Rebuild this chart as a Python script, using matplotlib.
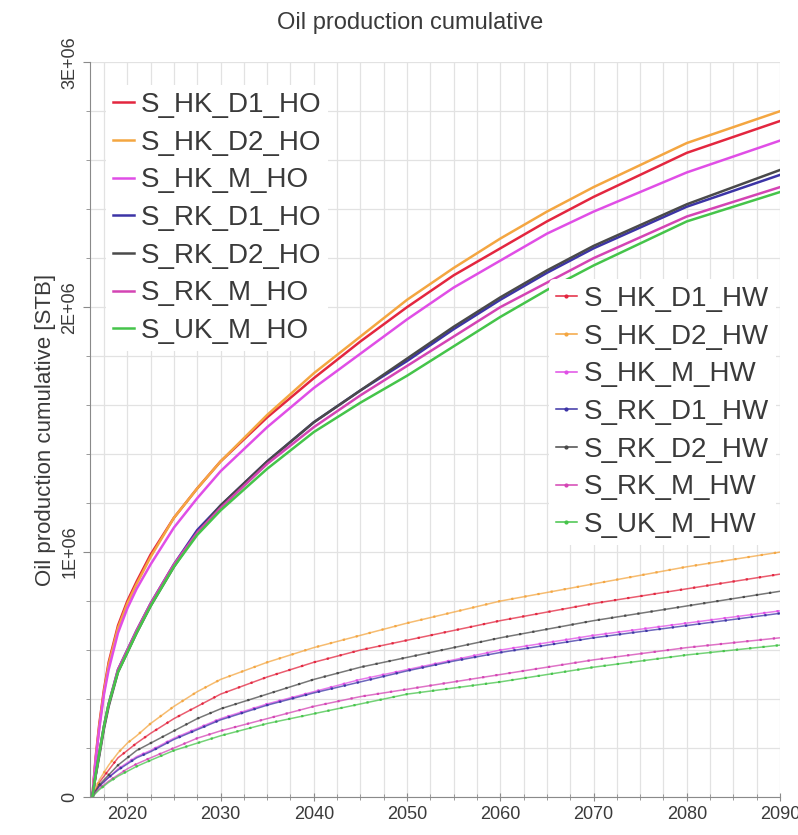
import matplotlib
matplotlib.use("Agg")
import matplotlib.pyplot as plt
from matplotlib.lines import Line2D
from matplotlib.ticker import MultipleLocator, FuncFormatter

plt.rcParams['font.family'] = ['Liberation Sans', 'DejaVu Sans']

# Years of the simulation output
years = [2016.25, 2016.6, 2017, 2017.5, 2018, 2019, 2020, 2021, 2022.5, 2025, 2027.5,
         2030, 2035, 2040, 2045, 2050, 2055, 2060, 2065, 2070, 2080, 2090]

# Cumulative oil [million STB] - HO cases
s_hk_d1_ho = [0, 0.16, 0.30, 0.44, 0.55, 0.70, 0.80, 0.88, 0.99, 1.14, 1.26,
              1.37, 1.55, 1.71, 1.86, 2.00, 2.13, 2.24, 2.35, 2.45, 2.63, 2.76]
s_hk_d2_ho = [0, 0.15, 0.29, 0.43, 0.54, 0.69, 0.79, 0.87, 0.98, 1.14, 1.26,
              1.37, 1.56, 1.73, 1.88, 2.03, 2.16, 2.28, 2.39, 2.49, 2.67, 2.80]
s_hk_m_ho = [0, 0.15, 0.28, 0.42, 0.52, 0.67, 0.77, 0.85, 0.95, 1.10, 1.22,
             1.33, 1.51, 1.67, 1.81, 1.95, 2.08, 2.19, 2.30, 2.39, 2.55, 2.68]
s_rk_d1_ho = [0, 0.09, 0.18, 0.29, 0.38, 0.52, 0.60, 0.68, 0.79, 0.95, 1.09,
              1.19, 1.37, 1.53, 1.66, 1.78, 1.91, 2.03, 2.14, 2.24, 2.41, 2.54]
s_rk_d2_ho = [0, 0.085, 0.17, 0.28, 0.37, 0.51, 0.59, 0.67, 0.78, 0.94, 1.08,
              1.19, 1.37, 1.53, 1.66, 1.79, 1.92, 2.04, 2.15, 2.25, 2.42, 2.56]
s_rk_m_ho = [0, 0.09, 0.18, 0.29, 0.38, 0.52, 0.60, 0.68, 0.79, 0.95, 1.08,
             1.18, 1.36, 1.51, 1.64, 1.76, 1.88, 2.00, 2.10, 2.20, 2.37, 2.49]
s_uk_m_ho = [0, 0.09, 0.18, 0.29, 0.38, 0.51, 0.59, 0.67, 0.78, 0.94, 1.07,
             1.17, 1.34, 1.49, 1.61, 1.72, 1.84, 1.96, 2.07, 2.17, 2.35, 2.47]

# Cumulative oil [million STB] - HW cases
s_hk_d1_hw = [0, 0.03, 0.06, 0.085, 0.11, 0.16, 0.19, 0.22, 0.26, 0.32, 0.37,
              0.42, 0.49, 0.55, 0.60, 0.64, 0.68, 0.72, 0.755, 0.79, 0.85, 0.91]
s_hk_d2_hw = [0, 0.035, 0.07, 0.10, 0.13, 0.18, 0.22, 0.25, 0.30, 0.37, 0.43,
              0.48, 0.55, 0.61, 0.66, 0.71, 0.755, 0.80, 0.835, 0.87, 0.94, 1.00]
s_hk_m_hw = [0, 0.022, 0.045, 0.063, 0.08, 0.115, 0.14, 0.165, 0.19, 0.24, 0.28,
             0.32, 0.38, 0.43, 0.48, 0.52, 0.56, 0.60, 0.63, 0.66, 0.71, 0.76]
s_rk_d1_hw = [0, 0.022, 0.045, 0.062, 0.08, 0.11, 0.135, 0.16, 0.185, 0.235, 0.275,
              0.315, 0.375, 0.425, 0.47, 0.515, 0.555, 0.59, 0.62, 0.65, 0.70, 0.75]
s_rk_d2_hw = [0, 0.025, 0.05, 0.07, 0.09, 0.13, 0.16, 0.19, 0.22, 0.27, 0.32,
              0.36, 0.42, 0.48, 0.53, 0.57, 0.61, 0.65, 0.685, 0.72, 0.78, 0.84]
s_rk_m_hw = [0, 0.018, 0.035, 0.05, 0.065, 0.09, 0.115, 0.135, 0.16, 0.20, 0.24,
             0.27, 0.32, 0.37, 0.41, 0.44, 0.47, 0.50, 0.53, 0.56, 0.61, 0.65]
s_uk_m_hw = [0, 0.015, 0.03, 0.045, 0.06, 0.085, 0.105, 0.125, 0.15, 0.19, 0.22,
             0.25, 0.30, 0.34, 0.38, 0.42, 0.445, 0.47, 0.50, 0.53, 0.58, 0.62]

ho_names = ["S_HK_D1_HO", "S_HK_D2_HO", "S_HK_M_HO", "S_RK_D1_HO", "S_RK_D2_HO", "S_RK_M_HO", "S_UK_M_HO"]
hw_names = ["S_HK_D1_HW", "S_HK_D2_HW", "S_HK_M_HW", "S_RK_D1_HW", "S_RK_D2_HW", "S_RK_M_HW", "S_UK_M_HW"]
ho_data = [s_hk_d1_ho, s_hk_d2_ho, s_hk_m_ho, s_rk_d1_ho, s_rk_d2_ho, s_rk_m_ho, s_uk_m_ho]
hw_data = [s_hk_d1_hw, s_hk_d2_hw, s_hk_m_hw, s_rk_d1_hw, s_rk_d2_hw, s_rk_m_hw, s_uk_m_hw]

colors = ["#e3263f", "#f4a641", "#e04ee6", "#3c34a6", "#4a4a4a", "#d444b4", "#45c44a"]
text_col = "#3a3a3a"

fig = plt.figure(figsize=(7.98, 8.35), dpi=100)
ax = fig.add_axes([0.1128, 0.0455, 0.8647, 0.880])

# HW lines: pale line with darker dots along it
hw_handles = []
for name, vals, c in zip(hw_names, hw_data, colors):
    ax.plot(years, [v * 1e6 for v in vals], color=c, lw=1.1, alpha=0.75, zorder=3)
    ax.plot(years, [v * 1e6 for v in vals], color=c, lw=1.6, ls=(0, (1, 5)), zorder=3)
    hw_handles.append(Line2D([], [], color=c, lw=1.1, marker='.', ms=4, label=name))

ho_handles = []
for name, vals, c in zip(ho_names, ho_data, colors):
    ln, = ax.plot(years, [v * 1e6 for v in vals], color=c, lw=1.8, label=name, zorder=4)
    ho_handles.append(ln)

ax.set_xlim(2016, 2090)
ax.set_ylim(0, 3e6)
ax.xaxis.set_major_locator(MultipleLocator(10))
ax.xaxis.set_minor_locator(MultipleLocator(2.5))
ax.yaxis.set_major_locator(MultipleLocator(1e6))
ax.yaxis.set_minor_locator(MultipleLocator(2e5))
ax.yaxis.set_major_formatter(FuncFormatter(lambda v, p: "0" if v == 0 else f"{v / 1e6:.0f}E+06"))

ax.grid(True, which='both', color='#e2e2e2', lw=0.9, zorder=0)
ax.set_axisbelow(True)
for s in ['top', 'right']:
    ax.spines[s].set_visible(False)
for s in ['left', 'bottom']:
    ax.spines[s].set_color('#8a8a8a')

ax.tick_params(axis='x', which='major', labelsize=13, colors='#8a8a8a', labelcolor=text_col,
               direction='inout', length=6)
ax.tick_params(axis='x', which='minor', colors='#8a8a8a', direction='inout', length=4)
ax.tick_params(axis='y', which='major', labelsize=13, colors='#8a8a8a', labelcolor=text_col, length=5)
ax.tick_params(axis='y', which='minor', colors='#8a8a8a', length=3)
for lab in ax.get_yticklabels():
    lab.set_rotation(90)
    lab.set_va('center')

ax.set_ylabel("Oil production cumulative [STB]", fontsize=16, color=text_col, labelpad=4)
fig.text(0.514, 0.972, "Oil production cumulative", ha='center', va='center', fontsize=17, color=text_col)

leg_kw = dict(bbox_transform=fig.transFigure, loc='upper left', fontsize=20, frameon=True,
              facecolor='white', edgecolor='none', framealpha=1, handlelength=0.75,
              handletextpad=0.25, labelspacing=0.42, borderpad=0.25, borderaxespad=0)

leg1 = ax.legend(handles=ho_handles, bbox_to_anchor=(106 / 798, 1 - 85 / 835), **leg_kw)
for t in leg1.get_texts():
    t.set_color(text_col)
ax.add_artist(leg1)
leg1.set_zorder(6)

leg2 = ax.legend(handles=hw_handles, bbox_to_anchor=(549 / 798, 1 - 279 / 835), **leg_kw)
for t in leg2.get_texts():
    t.set_color(text_col)
leg2.set_zorder(6)

fig.savefig("out.png", dpi=100)
